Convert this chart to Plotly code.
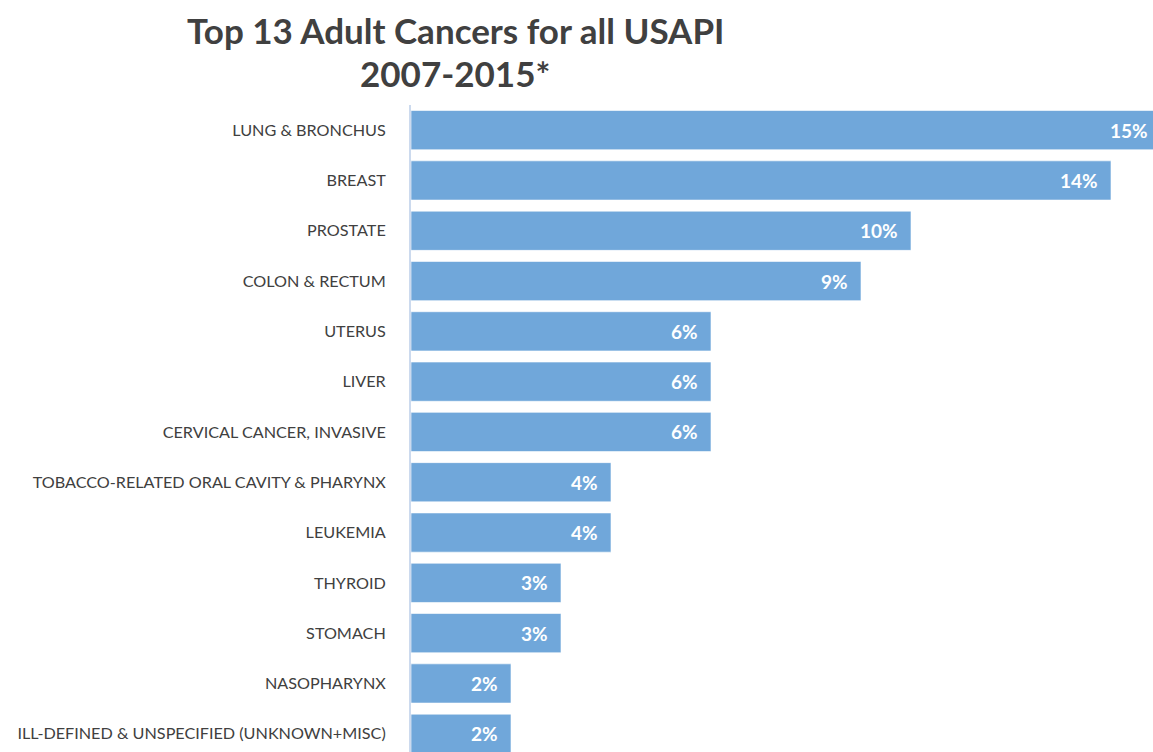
import plotly.graph_objects as go

categories = [
    "LUNG & BRONCHUS", "BREAST", "PROSTATE", "COLON & RECTUM", "UTERUS", "LIVER",
    "CERVICAL CANCER, INVASIVE", "TOBACCO-RELATED ORAL CAVITY & PHARYNX", "LEUKEMIA",
    "THYROID", "STOMACH", "NASOPHARYNX", "ILL-DEFINED & UNSPECIFIED (UNKNOWN+MISC)",
]
values = [15, 14, 10, 9, 6, 6, 6, 4, 4, 3, 3, 2, 2]
labels = [f"{v}%" for v in values]

W, H = 1153, 752
ML, MT = 411, 105
band = 50.3
yrange_bottom = -0.5 + (H - MT) / band
xmax = (W - ML) / 50.0

fig = go.Figure()
fig.add_trace(go.Bar(
    y=list(range(len(categories))), x=values, orientation="h",
    marker=dict(color="#70a7da", line=dict(color="rgba(255,255,255,0.6)", width=1)),
    width=0.78, hoverinfo="skip", textposition="none",
))
for i, (v, t) in enumerate(zip(values, labels)):
    fig.add_annotation(x=v / xmax, y=i, xref="paper", yref="y", text=f"<b>{t}</b>",
                       showarrow=False, xanchor="right", xshift=-11,
                       font=dict(family="Lato", size=19, color="white"))

for txt, yy in [("<b>Top 13 Adult Cancers for all USAPI</b>", 30), ("<b>2007-2015*</b>", 73)]:
    fig.add_annotation(x=(455 - ML) / (W - ML), y=1 + (MT - yy) / (H - MT), xref="paper", yref="paper",
                       text=txt, showarrow=False, xanchor="center", yanchor="middle",
                       font=dict(family="Lato", size=35, color="#404040"))

fig.update_layout(
    width=W, height=H, margin=dict(l=ML, r=0, t=MT, b=0),
    plot_bgcolor="white", paper_bgcolor="white", showlegend=False,
    xaxis=dict(range=[0, xmax], visible=False, fixedrange=True),
    yaxis=dict(range=[yrange_bottom, -0.5], tickmode="array",
               tickvals=list(range(len(categories))), ticktext=categories,
               showline=True, linecolor="#ccdaee", linewidth=2, showgrid=False,
               zeroline=False, ticks="", ticklabelstandoff=20, fixedrange=True,
               tickfont=dict(family="Lato", size=16.2, color="#404040")),
)
fig.write_html("out.html", config={"displayModeBar": False},
               post_script="document.body.style.margin='0';document.body.style.overflow='hidden';")
